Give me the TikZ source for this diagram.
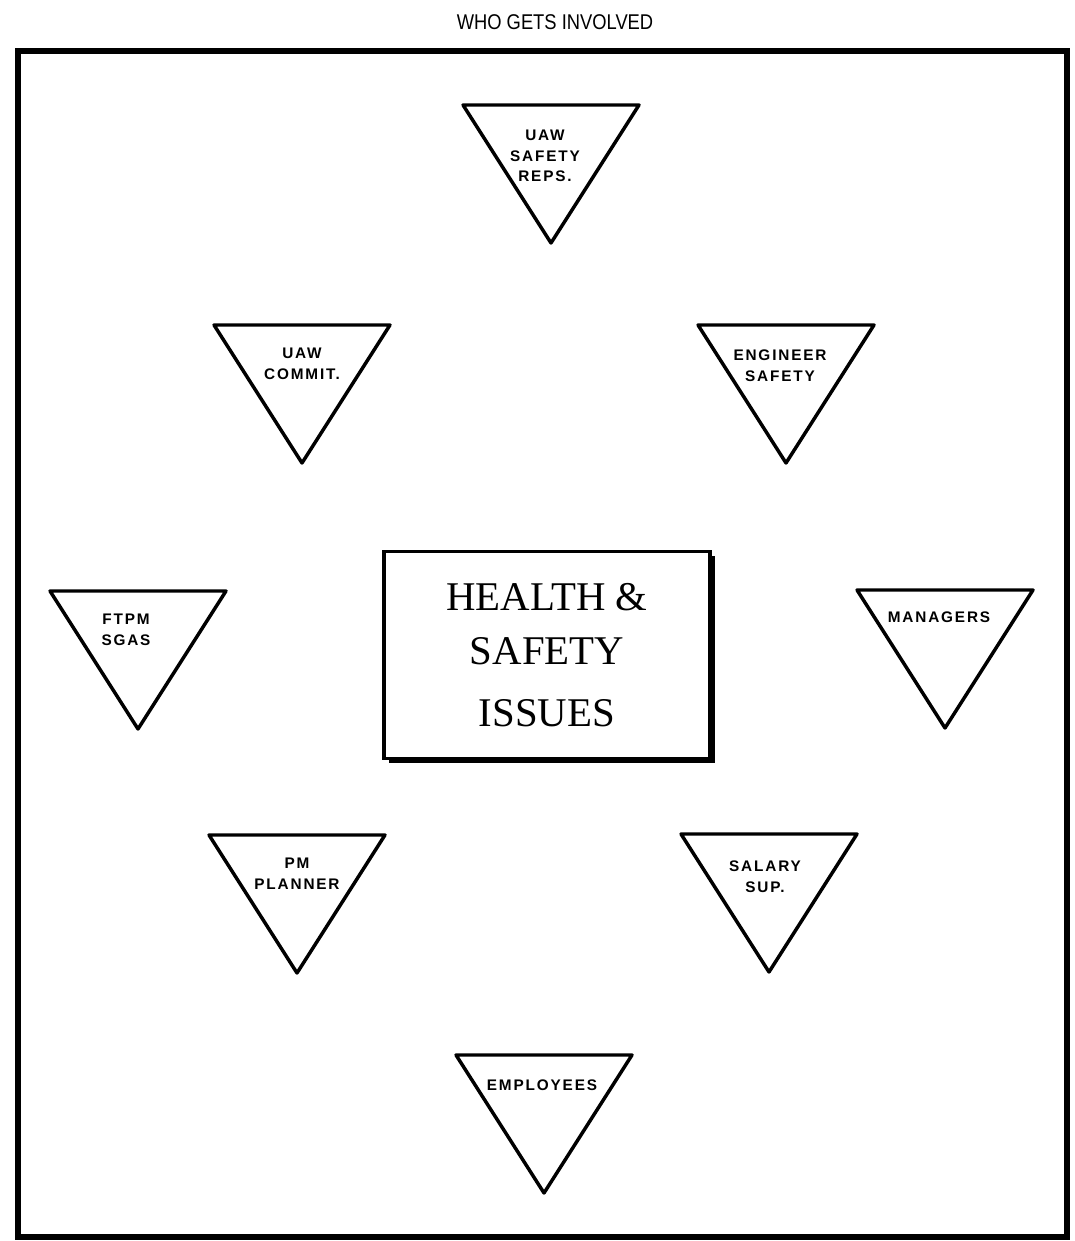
\documentclass[tikz,border=0pt]{standalone}
\usepackage{fontspec}
\setmainfont{Liberation Serif}
\newfontfamily\whofont[LetterSpace=12]{Liberation Sans}
\newfontfamily\titlefont{Liberation Sans}
\usetikzlibrary{shadows}

\begin{document}
\begin{tikzpicture}[
  x=0.75pt, y=-0.75pt,
  frame/.style={draw, line width=4.8pt},
  issuebox/.style={rectangle, draw, line width=2.4pt, fill=white, minimum width=244.5pt, minimum height=155pt, align=center, font=\fontsize{30.6}{40.5}\selectfont, general shadow={fill=black, shadow xshift=3.5pt, shadow yshift=-3.5pt}},
  who/.style={anchor=north, inner sep=0pt, align=center, font=\whofont\bfseries\fontsize{11.5}{15.4}\selectfont},
  whotri/.pic={\draw[line width=2.6pt, line join=round] (-88,0) -- (88,0) -- (0,138) -- cycle;}
]
\useasboundingbox (0,0) rectangle (1074,1241);
\node[anchor=base, font=\titlefont\fontsize{16}{18}\selectfont] (title) at (555,30) {\scalebox{0.86}[1]{WHO GETS INVOLVED}};
\draw[frame] (18,51) rectangle (1067,1237);

% the issue in the middle
\node[issuebox] (issues) at (547,655) {HEALTH \&\\SAFETY\\[6pt]ISSUES};

% who gets involved
\pic at (551,105) {whotri};
\node[who] (reps) at (545,130) {UAW\\SAFETY\\REPS.};
\pic at (302,325) {whotri};
\node[who] (commit) at (302,348) {UAW\\COMMIT.};
\pic at (786,325) {whotri};
\node[who] (engineer) at (780,350) {ENGINEER\\SAFETY};
\pic at (138,591) {whotri};
\node[who] (ftpm) at (126,614) {FTPM\\SGAS};
\pic at (945,590) {whotri};
\node[who] (managers) at (939,612) {MANAGERS};
\pic at (297,835) {whotri};
\node[who] (planner) at (297,858) {PM\\PLANNER};
\pic at (769,834) {whotri};
\node[who] (salary) at (765,861) {SALARY\\SUP.};
\pic at (544,1055) {whotri};
\node[who] (employees) at (542,1080) {EMPLOYEES};
\end{tikzpicture}
\end{document}
